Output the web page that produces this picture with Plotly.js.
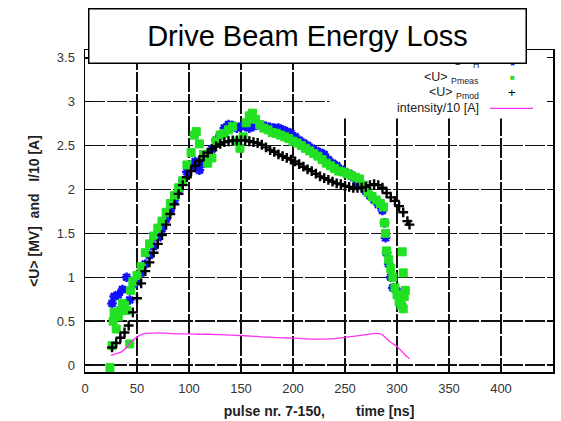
<!DOCTYPE html>
<html>
<head>
<meta charset="utf-8">
<script src="https://cdn.plot.ly/plotly-3.0.1.min.js"></script>
<style>html,body{margin:0;padding:0;background:#fff;}#chart{width:561px;height:421px;}</style>
</head>
<body>
<div id="chart"></div>
<script>
// ---- data ----
const tMod = [26,30,34,38,42,46,50,54,58,62,66,70,74,78,82,86,90,94,98,102,106,110,114,118,122,126,130,134,138,142,146,150,154,158,162,166,170,174,178,182,186,190,194,198,202,206,210,214,218,222,226,230,234,238,242,246,250,254,258,262,266,270,274,278,282,286,290,294,298,302,306,310,312];
const uMod = [0.20,0.25,0.31,0.37,0.45,0.60,0.76,0.93,1.07,1.17,1.28,1.38,1.48,1.60,1.72,1.83,1.95,2.05,2.14,2.21,2.27,2.33,2.38,2.42,2.46,2.49,2.52,2.54,2.55,2.56,2.56,2.56,2.56,2.55,2.54,2.53,2.51,2.48,2.45,2.43,2.40,2.38,2.36,2.34,2.32,2.29,2.26,2.23,2.21,2.18,2.15,2.13,2.11,2.09,2.07,2.06,2.04,2.03,2.02,2.02,2.02,2.03,2.05,2.06,2.05,2.02,1.96,1.91,1.87,1.81,1.74,1.64,1.60];

const tMeas = [24,26,27,28,30,32,34,36,38,40,43,44,46,50,54,58,62,66,70,74,78,82,86,90,94,98,102,105,107,110,114,118,122,126,130,134,138,142,146,149,152,155,158,161,164,168,172,176,180,184,188,192,196,200,204,208,212,216,220,224,228,232,236,240,244,248,252,256,260,264,268,272,276,280,284,287,288,289,290,292,294,296,298,300,302,304,306,305,306,307,308];
const uMeas = [-0.03,0.22,0.50,0.60,0.41,0.55,0.62,0.70,0.68,0.62,0.24,0.85,0.95,1.02,1.12,1.28,1.38,1.47,1.56,1.64,1.74,1.84,1.93,2.02,2.10,2.28,2.42,2.62,2.66,2.52,2.40,2.30,2.36,2.55,2.62,2.64,2.68,2.72,2.55,2.47,2.60,2.76,2.84,2.87,2.80,2.74,2.70,2.68,2.65,2.64,2.62,2.60,2.58,2.55,2.53,2.50,2.47,2.44,2.41,2.38,2.34,2.30,2.27,2.24,2.21,2.20,2.18,2.16,2.14,2.12,2.05,1.97,1.92,1.88,1.84,1.80,1.62,1.50,1.30,1.20,1.10,1.00,0.88,0.80,0.72,0.68,0.64,1.29,1.05,0.78,0.85];

const tH = [26,28,32,36,40,43,47,50,54,58,62,66,70,74,78,82,86,90,94,98,102,106,110,114,118,122,126,130,134,138,142,146,150,154,158,162,166,170,174,178,182,186,190,194,198,202,206,210,214,218,222,226,230,234,238,242,246,250,254,258,262,266,270,274,278,282,286,288,289,290,292,294,296,300,303,305];
const uH = [0.70,0.78,0.80,0.86,1.00,0.74,0.92,0.95,1.05,1.15,1.25,1.35,1.45,1.55,1.66,1.76,1.88,1.98,2.10,2.20,2.26,2.32,2.22,2.30,2.38,2.46,2.56,2.62,2.70,2.74,2.73,2.70,2.72,2.72,2.70,2.72,2.74,2.73,2.72,2.71,2.70,2.70,2.68,2.66,2.64,2.60,2.56,2.53,2.50,2.47,2.44,2.42,2.40,2.34,2.30,2.27,2.23,2.20,2.18,2.14,2.08,2.04,1.98,1.93,1.88,1.83,1.76,1.62,1.45,1.28,1.15,1.00,0.88,0.84,0.80,0.67];

const tI = [25,30,35,40,45,50,55,60,70,80,90,100,110,120,130,140,150,160,170,180,190,200,210,220,230,240,250,260,270,280,285,290,295,300,305,310,312];
const iI = [0.11,0.13,0.15,0.20,0.27,0.32,0.35,0.36,0.365,0.36,0.355,0.355,0.35,0.35,0.345,0.34,0.335,0.33,0.32,0.315,0.31,0.305,0.30,0.295,0.295,0.30,0.315,0.33,0.345,0.36,0.35,0.30,0.25,0.21,0.15,0.09,0.07];

const xTicks = [0,50,100,150,200,250,300,350,400,450];
const yTicks = [0,0.5,1,1.5,2,2.5,3,3.5];
const legendNames = ['&lt;U&gt; <sub>H</sub>', '&lt;U&gt; <sub>Pmeas</sub>', '&lt;U&gt; <sub>Pmod</sub>', 'intensity/10 [A]'];
const titleText = 'Drive Beam Energy Loss';
const xTitle = 'pulse nr. 7-150,\u00a0\u00a0\u00a0\u00a0\u00a0\u00a0\u00a0 time [ns]';
const yTitle = '&lt;U&gt; [MV]\u00a0\u00a0and\u00a0\u00a0 I/10 [A]';

// ---- colours ----
const cH = '#1010ff', cMeas = '#22e022', cMod = '#000000', cI = '#ff33ee';

const traces = [
  {x: tH, y: uH, type: 'scatter', mode: 'markers', name: 'H',
   marker: {symbol: 'asterisk-open', size: 8, color: cH, line: {color: cH, width: 2.5}}},
  {x: tMeas, y: uMeas, type: 'scatter', mode: 'markers', name: 'Pmeas',
   marker: {symbol: 'square', size: 8, color: cMeas, line: {color: cMeas, width: 1}}},
  {x: tMod, y: uMod, type: 'scatter', mode: 'markers', name: 'Pmod',
   marker: {symbol: 'cross-thin-open', size: 7, color: cMod, line: {color: cMod, width: 2.4}}},
  {x: tI, y: iI, type: 'scatter', mode: 'lines', name: 'I', line: {color: cI, width: 1.3, shape: 'spline'}}
];

const font = 'Liberation Sans, Arial, sans-serif';
const W = 561, H = 421, L = 85, R = 8, T = 49.5, B = 48.5;
const pw = W - L - R, ph = H - T - B;
const px = v => (v - L) / pw;           // pixel -> paper x
const py = v => (H - B - v) / ph;       // pixel -> paper y

const legY = [62, 77.5, 92.5, 107.5];
const annotations = [];
legendNames.forEach((n, i) => {
  annotations.push({xref: 'paper', yref: 'paper', x: px(481), y: py(legY[i]), xanchor: 'right', yanchor: 'middle',
    text: n, showarrow: false, font: {family: font, size: 12.5, color: '#222'}});
});
annotations.push({xref:'paper', yref:'paper', x: px(512), y: py(64), xanchor:'center', yanchor:'middle', text: '\u2716', showarrow:false, font:{size:6, color:cH}});
annotations.push({xref:'paper', yref:'paper', x: px(512), y: py(76), xanchor:'center', yanchor:'middle', text: '\u25A0', showarrow:false, font:{size:8, color:cMeas}});
annotations.push({xref:'paper', yref:'paper', x: px(512), y: py(92), xanchor:'center', yanchor:'middle', text: '+', showarrow:false, font:{family: font, size:13, color:cMod}});
annotations.push({xref:'paper', yref:'paper', x: px(307.5), y: py(35.5), xanchor:'center', yanchor:'middle',
  text: titleText, showarrow:false, bgcolor:'#ffffff', bordercolor:'#000', borderwidth:1.5, borderpad:0,
  width: 436, height: 53, font: {family: font, size: 29, color:'#000'}});

const gridStyle = {showgrid: true, gridcolor: '#111111', gridwidth: 1.4, griddash: '20px,2px'};
const layout = {
  width: W, height: H,
  margin: {l: L, r: R, t: T, b: B, pad: 0},
  paper_bgcolor: '#ffffff', plot_bgcolor: '#ffffff',
  showlegend: false,
  xaxis: Object.assign({range: [0, 450], tickvals: xTicks, ticktext: xTicks.map(String), ticks: 'inside', ticklen: 6,
    tickcolor: '#000', showline: true, linecolor: '#000', linewidth: 1.5, mirror: 'ticks', zeroline: false,
    tickfont: {family: font, size: 13, color: '#333'}, ticklabelstandoff: 4,
    title: {text: '<b>' + xTitle + '</b>', font: {family: font, size: 14, color: '#222'}, standoff: 11}}, gridStyle),
  yaxis: Object.assign({range: [-0.08, 3.59], tickvals: yTicks, ticktext: yTicks.map(String), ticks: 'inside', ticklen: 6,
    tickcolor: '#000', showline: true, linecolor: '#000', linewidth: 1.5, mirror: 'ticks', zeroline: false,
    tickfont: {family: font, size: 13, color: '#333'}, ticklabelstandoff: 6,
    title: {text: '<b>' + yTitle + '</b>', font: {family: font, size: 14, color: '#222'}, standoff: 14}}, gridStyle),
  shapes: [
    {type: 'rect', xref: 'x', yref: 'y', x0: 235, x1: 450, y0: 2.81, y1: 3.59, layer: 'between',
     fillcolor: '#ffffff', line: {width: 0}},
    {type: 'line', xref: 'paper', yref: 'paper', x0: px(490), x1: px(533), y0: py(108), y1: py(108),
     line: {color: cI, width: 1.3}}
  ],
  annotations: annotations
};

Plotly.newPlot('chart', traces, layout, {staticPlot: true, displayModeBar: false});
</script>
</body>
</html>
